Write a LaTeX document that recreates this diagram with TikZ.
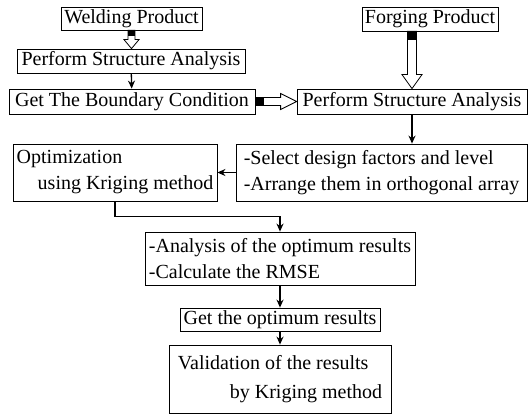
\documentclass[tikz,border=0pt]{standalone}
\usepackage{fontspec}
\setmainfont{Liberation Serif}
\usetikzlibrary{calc,arrows.meta}

\newcommand{\fatdown}[6]{%
	\draw[line width=0.8pt,fill=white] ($(#1)+(-#3,0)$) -- ($(#2)+(-#3,-#5)$) -- ($(#2)+(-#4,-#5)$) -- (#2) -- ($(#2)+(#4,-#5)$) -- ($(#2)+(#3,-#5)$) -- ($(#1)+(#3,0)$) -- cycle;
	\fill ($(#1)+(-#3,0)$) rectangle ($(#1)+(#3,#6)$);
}
\newcommand{\fatright}[6]{%
	\draw[line width=0.8pt,fill=white] ($(#1)+(0,-#3)$) -- ($(#2)+(-#5,-#3)$) -- ($(#2)+(-#5,-#4)$) -- (#2) -- ($(#2)+(-#5,#4)$) -- ($(#2)+(-#5,#3)$) -- ($(#1)+(0,#3)$) -- cycle;
	\fill ($(#1)+(0,-#3)$) rectangle ($(#1)+(#6,#3)$);
}

\begin{document}
\begin{tikzpicture}[x=1pt,y=-1pt,
		box/.style={draw,rectangle,line width=0.8pt,inner sep=0pt,align=left,font=\fontsize{20}{26}\selectfont},
		arr/.style={->,>={Stealth[length=8pt,width=7pt]},line width=1.3pt}]
			\useasboundingbox (0,0) rectangle (529,417);
			\node[box,minimum width=141pt,minimum height=23pt] (weld)at(131.5,18.5) {Welding Product};
			\node[box,minimum width=228pt,minimum height=24pt] (psaL)at(131,61) {Perform Structure Analysis};
			\node[box,minimum width=246pt,minimum height=25pt] (gbc)at(132,101.5) {Get The Boundary Condition};
			\node[box,minimum width=136pt,minimum height=24pt] (forg)at(430,19) {Forging Product};
			\node[box,minimum width=230pt,minimum height=25pt] (psaR)at(412,101.5) {Perform Structure Analysis};
			\node[box,minimum width=291pt,minimum height=57pt] (sel)at(381.5,172.5) {-Select design factors and level\\-Arrange them in orthogonal array};
			\node[box,minimum width=204pt,minimum height=57pt] (opt)at(115,172.5) {Optimization\\\hspace*{21pt}using Kriging method};
			\node[box,minimum width=270pt,minimum height=53pt] (ana)at(280,258.5) {-Analysis of the optimum results\\-Calculate the RMSE};
			\node[box,minimum width=200pt,minimum height=23pt] (get)at(280,319.5) {Get the optimum results};
			\node[box,minimum width=222pt,minimum height=68pt] (val)at(280,379) {Validation of the results\\[3pt]\hspace*{52pt}by Kriging method};
			\coordinate (ftop) at (forg.south-|psaR.north);
			\coordinate (wtip) at (weld.south|-psaL.north);
			\fatdown{weld.south}{wtip}{3.5}{7.5}{9}{6}
			\fatdown{ftop}{psaR.north}{4.5}{10}{14}{9}
			\fatright{gbc.east}{psaR.west}{4}{8}{16}{9}
			\draw[arr] (psaL) -- (gbc);
			\draw[arr] (psaR.south) -- (psaR.south|-sel.north);
			\draw[arr] (sel) -- (opt);
			\draw[arr] (opt.south) -- ++(0,15) -| (ana.north);
			\draw[arr] (ana) -- (get);
			\draw[arr] (get) -- (val);
		\end{tikzpicture}
\end{document}
